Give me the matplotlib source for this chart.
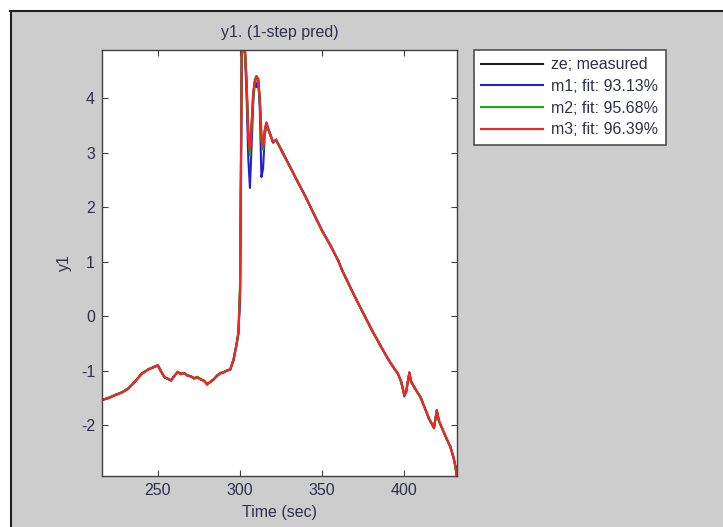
import matplotlib
matplotlib.use('Agg')
from matplotlib import pyplot as plt
from matplotlib.patches import Rectangle

plt.rcParams['font.family'] = ['Liberation Sans', 'DejaVu Sans']
plt.rcParams['axes.unicode_minus'] = False

# time axis (sec)
t = [216, 220, 224, 228, 232, 236, 240, 244, 248, 250, 252, 254, 256, 258, 260,
     262, 264, 266, 268, 270, 272, 274, 276, 278, 280, 282, 284, 286, 288, 290,
     292, 294, 296, 298, 299, 300, 300.6, 301, 302, 303, 304, 305, 306, 307, 308,
     309, 310, 311, 312, 313, 314, 315, 316, 318, 320, 322, 326, 330, 335, 340,
     345, 350, 355, 360, 362, 364, 370, 375, 380, 385, 390, 394, 396, 398, 400,
     401, 403, 404, 406, 410, 415, 418, 419.7, 421, 425, 428, 430, 431, 432]

ze = [-1.54, -1.50, -1.45, -1.40, -1.33, -1.20, -1.06, -0.98, -0.93, -0.90, -1.02, -1.12, -1.15, -1.18, -1.10,
      -1.02, -1.06, -1.04, -1.09, -1.10, -1.14, -1.12, -1.16, -1.18, -1.25, -1.20, -1.16, -1.09, -1.05, -1.03,
      -1.00, -0.98, -0.80, -0.50, -0.30, 0.50, 3.00, 4.90, 5.00, 4.90, 4.30, 3.40, 3.00, 3.50, 4.10,
      4.30, 4.40, 4.35, 4.00, 3.30, 3.10, 3.40, 3.55, 3.35, 3.20, 3.22, 3.00, 2.76, 2.47, 2.18,
      1.87, 1.56, 1.30, 1.00, 0.85, 0.72, 0.35, 0.05, -0.24, -0.52, -0.78, -0.97, -1.05, -1.20, -1.45,
      -1.40, -1.03, -1.20, -1.30, -1.50, -1.88, -2.05, -1.72, -1.92, -2.20, -2.40, -2.60, -2.75, -2.95]

m1 = [-1.53, -1.50, -1.44, -1.40, -1.32, -1.21, -1.05, -0.98, -0.92, -0.90, -1.01, -1.12, -1.14, -1.18, -1.09,
      -1.03, -1.05, -1.05, -1.08, -1.11, -1.13, -1.12, -1.15, -1.19, -1.24, -1.21, -1.15, -1.10, -1.04, -1.03,
      -0.99, -0.98, -0.82, -0.48, -0.32, 0.30, 2.50, 4.70, 5.10, 4.80, 4.00, 2.90, 2.35, 3.10, 3.90,
      4.30, 4.20, 4.35, 3.80, 2.55, 2.70, 3.30, 3.50, 3.38, 3.18, 3.24, 2.98, 2.77, 2.46, 2.19,
      1.86, 1.57, 1.29, 1.01, 0.84, 0.73, 0.34, 0.06, -0.25, -0.51, -0.79, -0.96, -1.06, -1.19, -1.47,
      -1.38, -1.05, -1.18, -1.31, -1.49, -1.89, -2.04, -1.74, -1.91, -2.21, -2.39, -2.62, -2.74, -2.96]

m2 = [-1.54, -1.49, -1.45, -1.39, -1.33, -1.20, -1.07, -0.97, -0.93, -0.91, -1.02, -1.11, -1.15, -1.17, -1.10,
      -1.02, -1.07, -1.04, -1.09, -1.10, -1.15, -1.11, -1.16, -1.18, -1.26, -1.20, -1.16, -1.08, -1.05, -1.02,
      -1.00, -0.97, -0.79, -0.51, -0.29, 0.60, 3.20, 4.80, 4.95, 4.85, 4.20, 3.30, 2.95, 3.45, 4.00,
      4.35, 4.40, 4.30, 3.95, 3.20, 3.05, 3.35, 3.50, 3.36, 3.21, 3.23, 3.01, 2.75, 2.48, 2.17,
      1.88, 1.55, 1.31, 0.99, 0.86, 0.71, 0.36, 0.04, -0.23, -0.53, -0.77, -0.98, -1.04, -1.21, -1.44,
      -1.41, -1.04, -1.21, -1.29, -1.51, -1.87, -2.06, -1.73, -1.93, -2.19, -2.41, -2.58, -2.80, -2.90]

m3 = [-1.54, -1.50, -1.45, -1.40, -1.33, -1.20, -1.06, -0.98, -0.93, -0.90, -1.02, -1.12, -1.15, -1.18, -1.10,
      -1.02, -1.06, -1.04, -1.09, -1.10, -1.14, -1.12, -1.16, -1.18, -1.25, -1.20, -1.16, -1.09, -1.05, -1.03,
      -1.00, -0.98, -0.80, -0.50, -0.30, 0.45, 2.90, 4.85, 5.00, 4.90, 4.25, 3.35, 3.05, 3.50, 4.10,
      4.30, 4.40, 4.35, 4.00, 3.30, 3.10, 3.40, 3.55, 3.35, 3.20, 3.22, 3.00, 2.76, 2.47, 2.18,
      1.87, 1.56, 1.30, 1.00, 0.85, 0.72, 0.35, 0.05, -0.24, -0.52, -0.78, -0.97, -1.05, -1.20, -1.45,
      -1.40, -1.03, -1.20, -1.30, -1.50, -1.88, -2.05, -1.72, -1.92, -2.20, -2.40, -2.60, -2.75, -2.95]

labels = ['ze; measured', 'm1; fit: 93.13%', 'm2; fit: 95.68%', 'm3; fit: 96.39%']
colors = ['#202020', '#2020d0', '#10b010', '#ff2020']

txt = '#303048'
fs = 11.5

fig = plt.figure(figsize=(7.23, 5.27), dpi=100)
fig.patch.set_facecolor('white')

# gray matlab style figure panel, kept behind the axes
panel = Rectangle((10 / 723, 0), 1, 1 - 11 / 527, transform=fig.transFigure,
                  facecolor='#cdcdcd', edgecolor='none', zorder=-10)
fig.add_artist(panel)
fig.add_artist(plt.Line2D([10.5 / 723, 10.5 / 723], [0, 1 - 11 / 527], transform=fig.transFigure,
                          color='#202020', lw=1.5, zorder=-5))
fig.add_artist(plt.Line2D([10 / 723, 1], [1 - 11 / 527, 1 - 11 / 527], transform=fig.transFigure,
                          color='#202020', lw=1.5, zorder=-5))

ax = fig.add_axes([102 / 723, 51 / 527, 355 / 723, 426 / 527])
ax.set_facecolor('white')
for y, c, lab in zip([ze, m1, m2, m3], colors, labels):
    ax.plot(t, y, color=c, lw=1.5, label=lab)

ax.set_xlim(216, 432)
ax.set_ylim(-2.93, 4.88)
ax.set_xticks([250, 300, 350, 400])
ax.set_yticks([-2, -1, 0, 1, 2, 3, 4])
ax.tick_params(direction='in', top=True, right=True, length=4, width=0.8,
               labelsize=fs, colors='#404040', pad=5)
for tl in ax.get_xticklabels() + ax.get_yticklabels():
    tl.set_color(txt)
for s in ax.spines.values():
    s.set_color('#404040')
    s.set_linewidth(1.0)
ax.set_xlabel('Time (sec)', fontsize=fs, color=txt, labelpad=5)
ax.set_ylabel('y1', fontsize=fs, color=txt, labelpad=6)
ax.set_title('y1. (1-step pred)', fontsize=fs, color=txt, pad=9)

leg = ax.legend(loc='upper left', bbox_to_anchor=(474 / 723, 1 - 50 / 527),
                bbox_transform=fig.transFigure, fontsize=fs, frameon=True, framealpha=1,
                fancybox=False, handlelength=3.9, handletextpad=0.5, labelspacing=0.42,
                borderaxespad=0, borderpad=0.45)
leg.get_frame().set_edgecolor('#505050')
leg.get_frame().set_facecolor('white')
leg.get_frame().set_linewidth(1.2)
for tx in leg.get_texts():
    tx.set_color(txt)

fig.savefig('out.png', dpi=100, facecolor=fig.get_facecolor())
